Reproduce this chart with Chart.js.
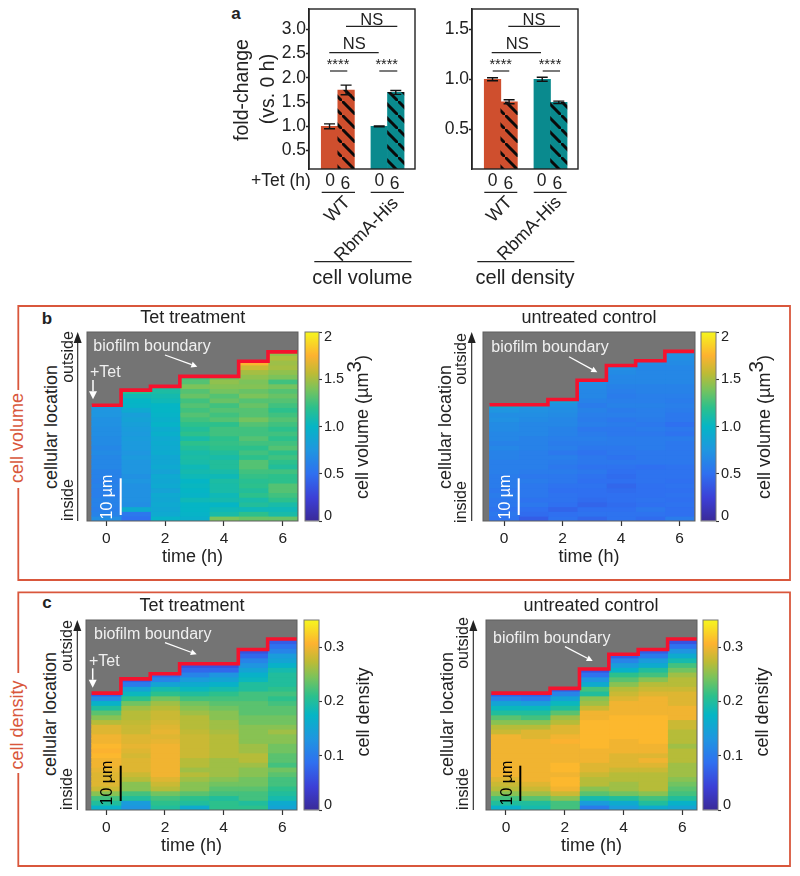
<!DOCTYPE html>
<html>
<head>
<meta charset="utf-8">
<title>Biofilm cell volume and cell density</title>
<script src="https://cdn.jsdelivr.net/npm/chart.js@4"></script>
<style>
    html, body { margin: 0; background: #fff; }
    #page { position: relative; width: 800px; height: 876px; overflow: hidden; font-family: "Liberation Sans", Arial, sans-serif; color: #222; }
    #page canvas { position: absolute; }
    #page svg { position: absolute; left: 0; top: 0; }
    .t { position: absolute; white-space: nowrap; line-height: 1; }
    .t sup { font-size: 1.15em; line-height: 0; vertical-align: 0.35em; }
</style>
</head>
<body>
<div id="page"></div>
<script>
// Panel a: fold-change bars
const barX = [0, 1, 3, 4];
const barTicks = ['0', '6', '0', '6'];
const groupNames = ['WT', 'RbmA-His'];
const volFold = [1.0, 1.75, 1.0, 1.7];
const volFoldErr = [0.05, 0.1, 0.01, 0.04];
const densFold = [1.0, 0.775, 1.0, 0.77];
const densFoldErr = [0.015, 0.02, 0.02, 0.012];

// Heatmaps: one array per hour, rows from inside (bottom) to outside (top)
const hours = [0, 1, 2, 3, 4, 5, 6];
const volTetBoundary = [24.5, 27.7, 28.5, 30.6, 30.6, 33.8, 35.8];
const volTet0 = [.7,.62,.6,.62,.62,.6,.6,.62,.6,.62,.62,.65,.65,.65,.68,.65,.68,.68,.7,.7,.72,.72,.75,.75,.78];
const volTet1 = [.5,.55,.92,.7,.72,.72,.72,.72,.75,.72,.75,.75,.75,.78,.75,.78,.78,.8,.78,.8,.82,.85,.82,.9,.98,1.0,1.05,1.2];
const volTet2 = [.98,.9,.88,.9,.88,.9,.85,.9,.88,.9,.85,.9,.88,.88,.92,.9,.92,.9,.95,.92,.98,.95,.98,1.0,1.0,1.05,1.08,1.12,1.15];
const volTet3 = [.95,.98,1.0,1.0,1.05,.98,1.0,1.02,1.0,1.05,1.08,1.05,1.1,1.12,1.1,1.15,1.2,1.1,1.2,1.15,1.2,1.25,1.3,1.25,1.3,1.25,1.35,1.3,1.4,1.3,1.25];
const volTet4 = [1.4,1.1,1.05,1.0,1.08,1.05,1.1,1.1,1.12,1.05,1.1,1.15,1.15,1.1,1.15,1.2,1.22,1.2,1.25,1.25,1.2,1.3,1.25,1.3,1.25,1.35,1.3,1.38,1.42,1.45,1.35];
const volTet5 = [1.35,1.2,1.05,1.15,1.1,1.2,1.15,1.2,1.18,1.22,1.25,1.3,1.3,1.2,1.25,1.2,1.25,1.3,1.25,1.25,1.3,1.38,1.3,1.3,1.35,1.3,1.4,1.35,1.42,1.4,1.45,1.5,1.6,1.75];
const volTet6 = [1.35,1.1,1.05,1.1,1.2,1.25,1.3,1.3,1.2,1.2,1.25,1.15,1.2,1.25,1.2,1.3,1.25,1.2,1.25,1.2,1.25,1.3,1.25,1.2,1.25,1.3,1.35,1.3,1.38,1.25,1.4,1.45,1.5,1.48,1.52,1.45];

const volCtlBoundary = [24.6, 24.6, 25.7, 29.8, 32.9, 33.9, 35.9];
const volCtl0 = [.52,.55,.52,.55,.55,.58,.55,.58,.58,.58,.6,.6,.6,.62,.62,.65,.62,.65,.65,.68,.68,.72,.7,.75,.92];
const volCtl1 = [.4,.48,.5,.55,.52,.55,.55,.55,.58,.55,.58,.6,.6,.6,.6,.62,.62,.62,.65,.65,.65,.68,.7,.72,.8];
const volCtl2 = [.52,.5,.44,.5,.52,.52,.5,.52,.55,.55,.58,.55,.58,.6,.55,.6,.58,.6,.62,.62,.65,.65,.68,.7,.72,.85];
const volCtl3 = [.45,.52,.5,.44,.48,.5,.5,.52,.5,.52,.55,.52,.55,.55,.52,.55,.58,.6,.58,.55,.6,.58,.6,.62,.58,.62,.65,.65,.68,.7];
const volCtl4 = [.52,.52,.5,.48,.5,.5,.48,.45,.5,.48,.5,.52,.55,.52,.55,.55,.58,.58,.55,.55,.58,.55,.6,.58,.62,.6,.58,.6,.62,.65,.65,.68,.72];
const volCtl5 = [.48,.52,.55,.5,.52,.5,.5,.5,.52,.52,.52,.5,.55,.55,.55,.58,.58,.58,.55,.58,.55,.58,.6,.6,.62,.6,.6,.62,.62,.65,.65,.65,.65,.68];
const volCtl6 = [.58,.5,.5,.52,.5,.52,.5,.52,.5,.52,.52,.52,.55,.55,.55,.55,.55,.58,.52,.55,.5,.55,.55,.58,.6,.58,.6,.62,.62,.65,.65,.65,.65,.68,.7,.72];

const densTetBoundary = [24.6, 27.6, 28.7, 30.8, 30.8, 33.8, 36];
const densTet0 = [.17,.2,.22,.25,.28,.29,.29,.29,.295,.3,.3,.31,.305,.31,.3,.3,.29,.29,.27,.25,.23,.2,.17,.12,.07];
const densTet1 = [.13,.14,.2,.22,.25,.25,.27,.28,.29,.29,.29,.285,.29,.295,.29,.29,.28,.28,.275,.27,.27,.26,.24,.21,.18,.15,.1,.07];
const densTet2 = [.2,.21,.22,.24,.27,.28,.29,.3,.3,.3,.3,.3,.3,.3,.295,.29,.295,.29,.285,.28,.28,.27,.26,.24,.21,.19,.15,.11,.08];
const densTet3 = [.16,.2,.21,.23,.25,.25,.26,.27,.26,.27,.27,.28,.28,.28,.28,.28,.275,.27,.27,.27,.26,.25,.24,.22,.2,.18,.16,.14,.11,.08,.06];
const densTet4 = [.21,.21,.2,.22,.23,.24,.25,.26,.26,.26,.26,.27,.27,.27,.27,.27,.265,.26,.26,.25,.25,.24,.23,.22,.21,.19,.17,.15,.13,.08,.06];
const densTet5 = [.21,.2,.22,.22,.23,.24,.24,.25,.25,.26,.27,.27,.26,.26,.25,.25,.25,.25,.24,.24,.23,.23,.23,.22,.22,.2,.2,.18,.17,.15,.13,.11,.08,.06];
const densTet6 = [.15,.16,.19,.2,.21,.22,.22,.23,.24,.22,.23,.23,.24,.24,.25,.25,.26,.25,.24,.24,.23,.23,.22,.21,.22,.21,.2,.2,.2,.19,.17,.15,.14,.11,.09,.07];

const densCtlBoundary = [24.6, 24.6, 25.6, 29.7, 32.8, 33.8, 36];
const densCtl0 = [.17,.2,.22,.25,.27,.28,.29,.3,.3,.3,.3,.3,.3,.3,.3,.3,.28,.27,.25,.23,.2,.18,.15,.11,.07];
const densCtl1 = [.19,.2,.23,.26,.28,.29,.3,.3,.3,.3,.3,.3,.3,.3,.3,.29,.29,.27,.25,.22,.2,.18,.14,.1,.07];
const densCtl2 = [.22,.22,.25,.28,.3,.31,.31,.3,.31,.31,.3,.3,.3,.3,.305,.3,.29,.29,.27,.26,.23,.2,.18,.15,.11,.07];
const densCtl3 = [.1,.14,.19,.23,.25,.27,.27,.28,.29,.29,.3,.3,.3,.31,.31,.31,.31,.31,.31,.3,.3,.28,.26,.25,.2,.22,.16,.13,.09,.06];
const densCtl4 = [.14,.16,.2,.24,.26,.26,.27,.27,.28,.29,.29,.29,.3,.3,.3,.31,.31,.31,.31,.31,.3,.3,.3,.29,.28,.27,.25,.23,.21,.17,.14,.11,.07];
const densCtl5 = [.16,.2,.22,.25,.27,.27,.27,.27,.28,.29,.3,.29,.3,.3,.31,.31,.31,.31,.31,.31,.3,.3,.3,.3,.29,.28,.27,.25,.22,.2,.16,.14,.1,.07];
const densCtl6 = [.15,.17,.2,.22,.23,.24,.25,.26,.26,.26,.27,.27,.27,.26,.27,.27,.27,.28,.28,.3,.3,.3,.29,.29,.29,.28,.27,.27,.26,.24,.22,.19,.16,.13,.09,.06];

// Colour scale shared by the heatmaps and their colour bars
const colorStops = [
    [0, '#3a2a98'], [0.12, '#3c3fd6'], [0.25, '#2f70f0'], [0.375, '#1f96e0'], [0.5, '#05b5c5'],
    [0.6, '#2cc08c'], [0.7, '#7cc35a'], [0.78, '#bdbb35'], [0.875, '#fdb230'], [1, '#f6f61e']
];
const ORANGE = '#cf4f2e';
const TEAL = '#0a8a8e';
const BOX = '#d9573c';
const GREY = '#747474';
const TEXT = '#222';
const FONT = '"Liberation Sans", Arial, sans-serif';
const PAD = 20;

Chart.defaults.font.family = FONT;
Chart.defaults.color = TEXT;
Chart.defaults.animation = false;
Chart.defaults.responsive = false;

const page = document.getElementById('page');

function hexToRgb(hex) {
    return [1, 3, 5].map(i => parseInt(hex.substr(i, 2), 16));
}

function valueColor(fraction) {
    const f = Math.max(0, Math.min(1, fraction));
    for (let i = 1; i < colorStops.length; i++) {
        if (f <= colorStops[i][0]) {
            const [a, ca] = colorStops[i - 1];
            const [b, cb] = colorStops[i];
            const k = (f - a) / (b - a);
            const c1 = hexToRgb(ca), c2 = hexToRgb(cb);
            return `rgb(${c1.map((v, j) => Math.round(v + (c2[j] - v) * k)).join(',')})`;
        }
    }
    return colorStops[colorStops.length - 1][1];
}

// Grey plot background and the thin frame round each plot
const panelPlugin = {
    id: 'panel',
    beforeDatasetsDraw(chart, args, opts) {
        if (!opts.fill) return;
        const a = chart.chartArea;
        chart.ctx.fillStyle = opts.fill;
        chart.ctx.fillRect(a.left, a.top, a.width, a.height);
    },
    afterDraw(chart, args, opts) {
        const a = chart.chartArea;
        const ctx = chart.ctx;
        ctx.save();
        ctx.strokeStyle = opts.frame || '#555';
        ctx.lineWidth = opts.frameWidth || 1;
        ctx.strokeRect(a.left, a.top, a.width, a.height);
        ctx.restore();
    }
};

const errorBarPlugin = {
    id: 'errorBars',
    afterDatasetsDraw(chart, args, opts) {
        const { x, y } = chart.scales;
        const ctx = chart.ctx;
        ctx.save();
        ctx.strokeStyle = '#111';
        ctx.lineWidth = 1.4;
        chart.data.datasets[0].data.forEach((p, i) => {
            const px = x.getPixelForValue(p.x);
            const hi = y.getPixelForValue(p.y + opts.err[i]);
            const lo = y.getPixelForValue(p.y - opts.err[i]);
            ctx.beginPath();
            ctx.moveTo(px - 5.5, hi); ctx.lineTo(px + 5.5, hi);
            ctx.moveTo(px, hi); ctx.lineTo(px, lo);
            ctx.moveTo(px - 5.5, lo); ctx.lineTo(px + 5.5, lo);
            ctx.stroke();
        });
        ctx.restore();
    }
};

// Canvas placed so that the chart area lands on the given page rectangle
function mountCanvas(plot, left, bottom, right) {
    const c = document.createElement('canvas');
    c.width = plot.r - plot.l + left + right + 2 * PAD;
    c.height = plot.b - plot.t + bottom + 2 * PAD;
    c.style.left = (plot.l - left - PAD) + 'px';
    c.style.top = (plot.t - PAD) + 'px';
    page.appendChild(c);
    return c;
}

function hatch(color) {
    const tile = document.createElement('canvas');
    tile.width = tile.height = 14;
    const ctx = tile.getContext('2d');
    ctx.fillStyle = color;
    ctx.fillRect(0, 0, 14, 14);
    ctx.strokeStyle = '#0a0a0a';
    ctx.lineWidth = 3;
    ctx.beginPath();
    ctx.moveTo(-7, -7);
    ctx.lineTo(21, 21);
    ctx.stroke();
    return ctx.createPattern(tile, 'repeat');
}

function drawFoldChart(plot, values, errs, yMin, yMax, xMin, xMax) {
    const colors = [ORANGE, hatch(ORANGE), TEAL, hatch(TEAL)];
    new Chart(mountCanvas(plot, 45, 0, 0), {
        type: 'bar',
        data: {
            datasets: [{
                data: values.map((v, i) => ({ x: barX[i], y: v })),
                backgroundColor: colors,
                borderWidth: 0,
                barPercentage: 1,
                categoryPercentage: 1
            }]
        },
        options: {
            layout: { padding: PAD },
            plugins: {
                legend: { display: false },
                tooltip: { enabled: false },
                panel: { frame: '#222', frameWidth: 1.4 },
                errorBars: { err: errs }
            },
            scales: {
                x: { type: 'linear', min: xMin, max: xMax, display: false, offset: false, grid: { offset: false } },
                y: {
                    min: yMin,
                    max: yMax,
                    afterFit: s => { s.width = 45; },
                    border: { color: '#222', width: 1.4 },
                    grid: { drawOnChartArea: false, tickLength: 3, tickColor: '#222', tickWidth: 1.3 },
                    ticks: {
                        stepSize: 0.5,
                        includeBounds: false,
                        padding: 0,
                        font: { size: 17.5 },
                        color: TEXT,
                        callback: v => v.toFixed(1)
                    }
                }
            }
        },
        plugins: [panelPlugin, errorBarPlugin]
    });
}

function drawHeatmap(plot, columns, boundary, vMax, xMin, xMax) {
    const datasets = columns.map((col, t) => ({
        type: 'bar',
        order: 1,
        grouped: false,
        barPercentage: 1,
        categoryPercentage: 1,
        borderWidth: 0,
        data: col.map((v, r) => ({ x: hours[t], y: [r, Math.min(r + 1.05, boundary[t])], v: v })),
        backgroundColor: ctx => valueColor(ctx.raw.v / vMax)
    }));
    // red biofilm boundary, held flat over the half hour each side of the first and last column
    const edge = [{ x: hours[0] - 0.5, y: boundary[0] }];
    hours.forEach((h, i) => edge.push({ x: h, y: boundary[i] }));
    edge.push({ x: hours[6] + 0.5, y: boundary[6] });
    datasets.push({
        type: 'line',
        order: 0,
        data: edge,
        stepped: 'middle',
        borderColor: '#f5122e',
        borderWidth: 3.6,
        borderJoinStyle: 'miter',
        borderCapStyle: 'butt',
        pointRadius: 0,
        clip: false
    });
    new Chart(mountCanvas(plot, 0, 51, 0), {
        data: { datasets: datasets },
        options: {
            layout: { padding: PAD },
            plugins: {
                legend: { display: false },
                tooltip: { enabled: false },
                panel: { fill: GREY, frame: '#5e5e5e' }
            },
            scales: {
                x: {
                    type: 'linear',
                    min: xMin,
                    max: xMax,
                    offset: false,
                    afterFit: s => { s.height = 51; },
                    border: { display: false },
                    grid: { offset: false, drawOnChartArea: false, tickLength: 5, tickColor: '#333', tickWidth: 1.2 },
                    ticks: { stepSize: 2, includeBounds: false, padding: 3, font: { size: 15.5 }, color: TEXT, maxRotation: 0 },
                    title: { display: true, text: 'time (h)', font: { size: 18 }, color: TEXT, padding: { top: 4, bottom: 4 } }
                },
                y: { min: 0, max: 40, display: false }
            }
        },
        plugins: [panelPlugin]
    });
}

function drawColorBar(plot, vMax, step) {
    new Chart(mountCanvas(plot, 0, 0, 30), {
        type: 'bar',
        data: {
            labels: [''],
            datasets: [{
                data: [vMax],
                barPercentage: 1,
                categoryPercentage: 1,
                borderWidth: 0,
                backgroundColor: ctx => {
                    const a = ctx.chart.chartArea;
                    if (!a) return '#888';
                    const g = ctx.chart.ctx.createLinearGradient(0, a.bottom, 0, a.top);
                    colorStops.forEach(s => g.addColorStop(s[0], s[1]));
                    return g;
                }
            }]
        },
        options: {
            layout: { padding: PAD },
            plugins: {
                legend: { display: false },
                tooltip: { enabled: false },
                panel: { frame: '#777' }
            },
            scales: {
                x: { display: false },
                y: {
                    position: 'right',
                    min: 0,
                    max: vMax,
                    afterFit: s => { s.width = 30; },
                    border: { display: false },
                    grid: { drawOnChartArea: false, tickLength: 3, tickColor: '#333', tickWidth: 1.1 },
                    ticks: {
                        stepSize: step,
                        includeBounds: false,
                        padding: 2,
                        font: { size: 14.5, lineHeight: 0.75 },
                        color: TEXT,
                        // end labels sit inside the bar's height
                        callback: v => v === 0 ? ['0', ''] : (v === vMax ? ['', String(v)] : v.toFixed(1))
                    }
                }
            }
        },
        plugins: [panelPlugin]
    });
}

// Page annotations
let svg = '';
function line(x1, y1, x2, y2, color, w) {
    svg += `<line x1="${x1}" y1="${y1}" x2="${x2}" y2="${y2}" stroke="${color}" stroke-width="${w}"/>`;
}
function arrow(x1, y1, x2, y2, color, w, head, size) {
    const len = Math.hypot(x2 - x1, y2 - y1);
    const ux = (x2 - x1) / len, uy = (y2 - y1) / len;
    const bx = x2 - ux * head, by = y2 - uy * head;
    line(x1, y1, bx, by, color, w);
    svg += `<polygon fill="${color}" points="${x2},${y2} ${bx - uy * size},${by + ux * size} ${bx + uy * size},${by - ux * size}"/>`;
}
function text(str, cx, cy, size, opts = {}) {
    const d = document.createElement('div');
    d.className = 't';
    d.innerHTML = str;
    d.style.left = cx + 'px';
    d.style.top = cy + 'px';
    d.style.fontSize = size + 'px';
    d.style.color = opts.color || TEXT;
    if (opts.bold) d.style.fontWeight = 'bold';
    d.style.transform = `translate(-50%,-50%) rotate(${opts.rot || 0}deg)`;
    page.appendChild(d);
}

function heatLabels(o) {
    text(o.title, o.titleX, o.titleY, 18);
    text('cellular location', o.locX, o.locY, 18, { rot: -90 });
    text('outside', o.sideX, o.outY, 16, { rot: -90 });
    text('inside', o.sideX, o.inY, 16, { rot: -90 });
    arrow(o.axisX, o.axisB, o.axisX, o.axisT, '#222', 1.1, 11, 4);
    text('biofilm boundary', o.bbX, o.bbY, 16, { color: '#f0f0f0' });
    arrow(o.arrow[0], o.arrow[1], o.arrow[2], o.arrow[3], '#fff', 1.3, 6, 3);
    line(o.barX, o.barT, o.barX, o.barB, o.barColor, 2);
    text('10 µm', o.barTextX, o.barTextY, 16, { rot: -90, color: o.barColor });
    if (o.tetX) {
        text('+Tet', o.tetX, o.tetY, 16, { color: '#f0f0f0' });
        arrow(o.tetArrowX, o.tetArrowT, o.tetArrowX, o.tetArrowB, '#fff', 1.5, 8, 4);
    }
    text(o.cbar, o.cbarX, o.cbarY, 18, { rot: -90 });
}

// --- panel a ---
drawFoldChart({ l: 309, t: 9, r: 415, b: 169 }, volFold, volFoldErr, 0.12, 3.42, -1.24, 5.16);
drawFoldChart({ l: 472, t: 9, r: 578, b: 169 }, densFold, densFoldErr, 0.103, 1.703, -1.24, 5.16);

text('a', 236, 13, 17, { bold: true });
text('fold-change', 241.7, 90, 19.5, { rot: -90 });
text('(vs. 0 h)', 268, 89, 19.5, { rot: -90 });
text('+Tet (h)', 281, 181, 17.5);

const tickSpots = [[330, 345.3, 379.3, 394.7], [492.7, 508.3, 541.7, 557.3]];
tickSpots.forEach(spots => {
    spots.forEach((x, i) => text(barTicks[i], x, i % 2 ? 184 : 181, 17.5));
});
[[321.7, 355], [370.7, 404], [484.3, 517.3], [533.7, 566.7]].forEach(s => line(s[0], 192.3, s[1], 192.3, '#222', 1.2));
line(314.3, 261.7, 411.7, 261.7, '#222', 1.2);
line(477.3, 261.7, 574.3, 261.7, '#222', 1.2);
text(groupNames[0], 336.7, 209.3, 18, { rot: -45 });
text(groupNames[1], 365.7, 228.7, 18, { rot: -45 });
text(groupNames[0], 499.3, 209.3, 18, { rot: -45 });
text(groupNames[1], 529, 227.7, 18, { rot: -45 });
text('cell volume', 362.3, 276.7, 20);
text('cell density', 525, 276.7, 20);

[
    [346, 397.3, 26.3, 'NS', 371.7, 19.3], [329.3, 378.7, 52.7, 'NS', 354.3, 42.7],
    [330, 347.3, 71, '****', 338, 64.3], [379.3, 397.3, 71, '****', 386.7, 64.3],
    [508.3, 560, 26.3, 'NS', 534, 19.3], [491.7, 541, 52.7, 'NS', 517.3, 42.7],
    [492.7, 509.3, 71, '****', 500.7, 64.3], [542.7, 560, 71, '****', 550, 64.3]
].forEach(s => {
    line(s[0], s[2], s[1], s[2], '#222', 1.2);
    text(s[3], s[4], s[5], s[3] === 'NS' ? 16.5 : 14.5);
});

// --- panels b and c ---
drawHeatmap({ l: 87, t: 332, r: 298, b: 521 }, [volTet0, volTet1, volTet2, volTet3, volTet4, volTet5, volTet6], volTetBoundary, 2, -0.66, 6.52);
drawHeatmap({ l: 483, t: 332, r: 695, b: 521 }, [volCtl0, volCtl1, volCtl2, volCtl3, volCtl4, volCtl5, volCtl6], volCtlBoundary, 2, -0.72, 6.53);
drawHeatmap({ l: 86, t: 620, r: 297, b: 810 }, [densTet0, densTet1, densTet2, densTet3, densTet4, densTet5, densTet6], densTetBoundary, 0.35, -0.69, 6.5);
drawHeatmap({ l: 486, t: 620, r: 697, b: 810 }, [densCtl0, densCtl1, densCtl2, densCtl3, densCtl4, densCtl5, densCtl6], densCtlBoundary, 0.35, -0.68, 6.5);

drawColorBar({ l: 305, t: 332, r: 319, b: 521 }, 2, 0.5);
drawColorBar({ l: 701, t: 332, r: 716, b: 521 }, 2, 0.5);
drawColorBar({ l: 304, t: 620, r: 319, b: 810 }, 0.35, 0.1);
drawColorBar({ l: 703, t: 620, r: 718, b: 810 }, 0.35, 0.1);

text('b', 47, 318, 17, { bold: true });
text('c', 47, 602, 17, { bold: true });

const volUnit = 'cell volume (µm<sup>3</sup>)';
heatLabels({
    title: 'Tet treatment', titleX: 192.7, titleY: 317, locX: 50.7, locY: 426.7, sideX: 67.7, outY: 357.3, inY: 500.3,
    axisX: 77.7, axisT: 332, axisB: 521, bbX: 152, bbY: 345.7, arrow: [165, 355, 197.3, 366.7],
    barX: 120.7, barT: 478.3, barB: 515, barColor: '#fff', barTextX: 107.3, barTextY: 496.7,
    tetX: 105.3, tetY: 372.3, tetArrowX: 93, tetArrowT: 380, tetArrowB: 399.3,
    cbar: volUnit, cbarX: 362, cbarY: 427
});
heatLabels({
    title: 'untreated control', titleX: 589, titleY: 317, locX: 445, locY: 426.7, sideX: 461, outY: 359.3, inY: 501.7,
    axisX: 471.7, axisT: 332, axisB: 521, bbX: 550, bbY: 347.3, arrow: [569, 356.7, 597.3, 372.3],
    barX: 518.7, barT: 478.3, barB: 515, barColor: '#fff', barTextX: 505, barTextY: 496.7,
    cbar: volUnit, cbarX: 764, cbarY: 427
});
heatLabels({
    title: 'Tet treatment', titleX: 192, titleY: 605, locX: 50, locY: 714.3, sideX: 66.7, outY: 645.7, inY: 789,
    axisX: 77.3, axisT: 620, axisB: 810, bbX: 152.7, bbY: 634.3, arrow: [165, 642.7, 196.7, 654.3],
    barX: 120.7, barT: 765.7, barB: 801, barColor: '#000', barTextX: 107.3, barTextY: 783.3,
    tetX: 104.3, tetY: 661, tetArrowX: 92.7, tetArrowT: 668.3, tetArrowB: 687.7,
    cbar: 'cell density', cbarX: 363, cbarY: 712
});
heatLabels({
    title: 'untreated control', titleX: 591, titleY: 605, locX: 446.7, locY: 714.3, sideX: 462.7, outY: 643.3, inY: 789,
    axisX: 473.3, axisT: 620, axisB: 810, bbX: 551.7, bbY: 637.7, arrow: [565, 646.7, 592.7, 661],
    barX: 520.3, barT: 765.7, barB: 801, barColor: '#000', barTextX: 507.3, barTextY: 783.3,
    cbar: 'cell density', cbarX: 761.7, cbarY: 712
});

// orange boxes with a gap on the left for their labels
svg += `<path d="M18.3 390V306H790V580H18.3V488" fill="none" stroke="${BOX}" stroke-width="1.8"/>`;
svg += `<path d="M18.3 673V592.3H790V866H18.3V773" fill="none" stroke="${BOX}" stroke-width="1.8"/>`;
text('cell volume', 17.3, 438.3, 18, { rot: -90, color: BOX });
text('cell density', 17.3, 725, 18, { rot: -90, color: BOX });

const overlay = document.createElementNS('http://www.w3.org/2000/svg', 'svg');
overlay.setAttribute('width', 800);
overlay.setAttribute('height', 876);
overlay.innerHTML = svg;
page.appendChild(overlay);
</script>
</body>
</html>
